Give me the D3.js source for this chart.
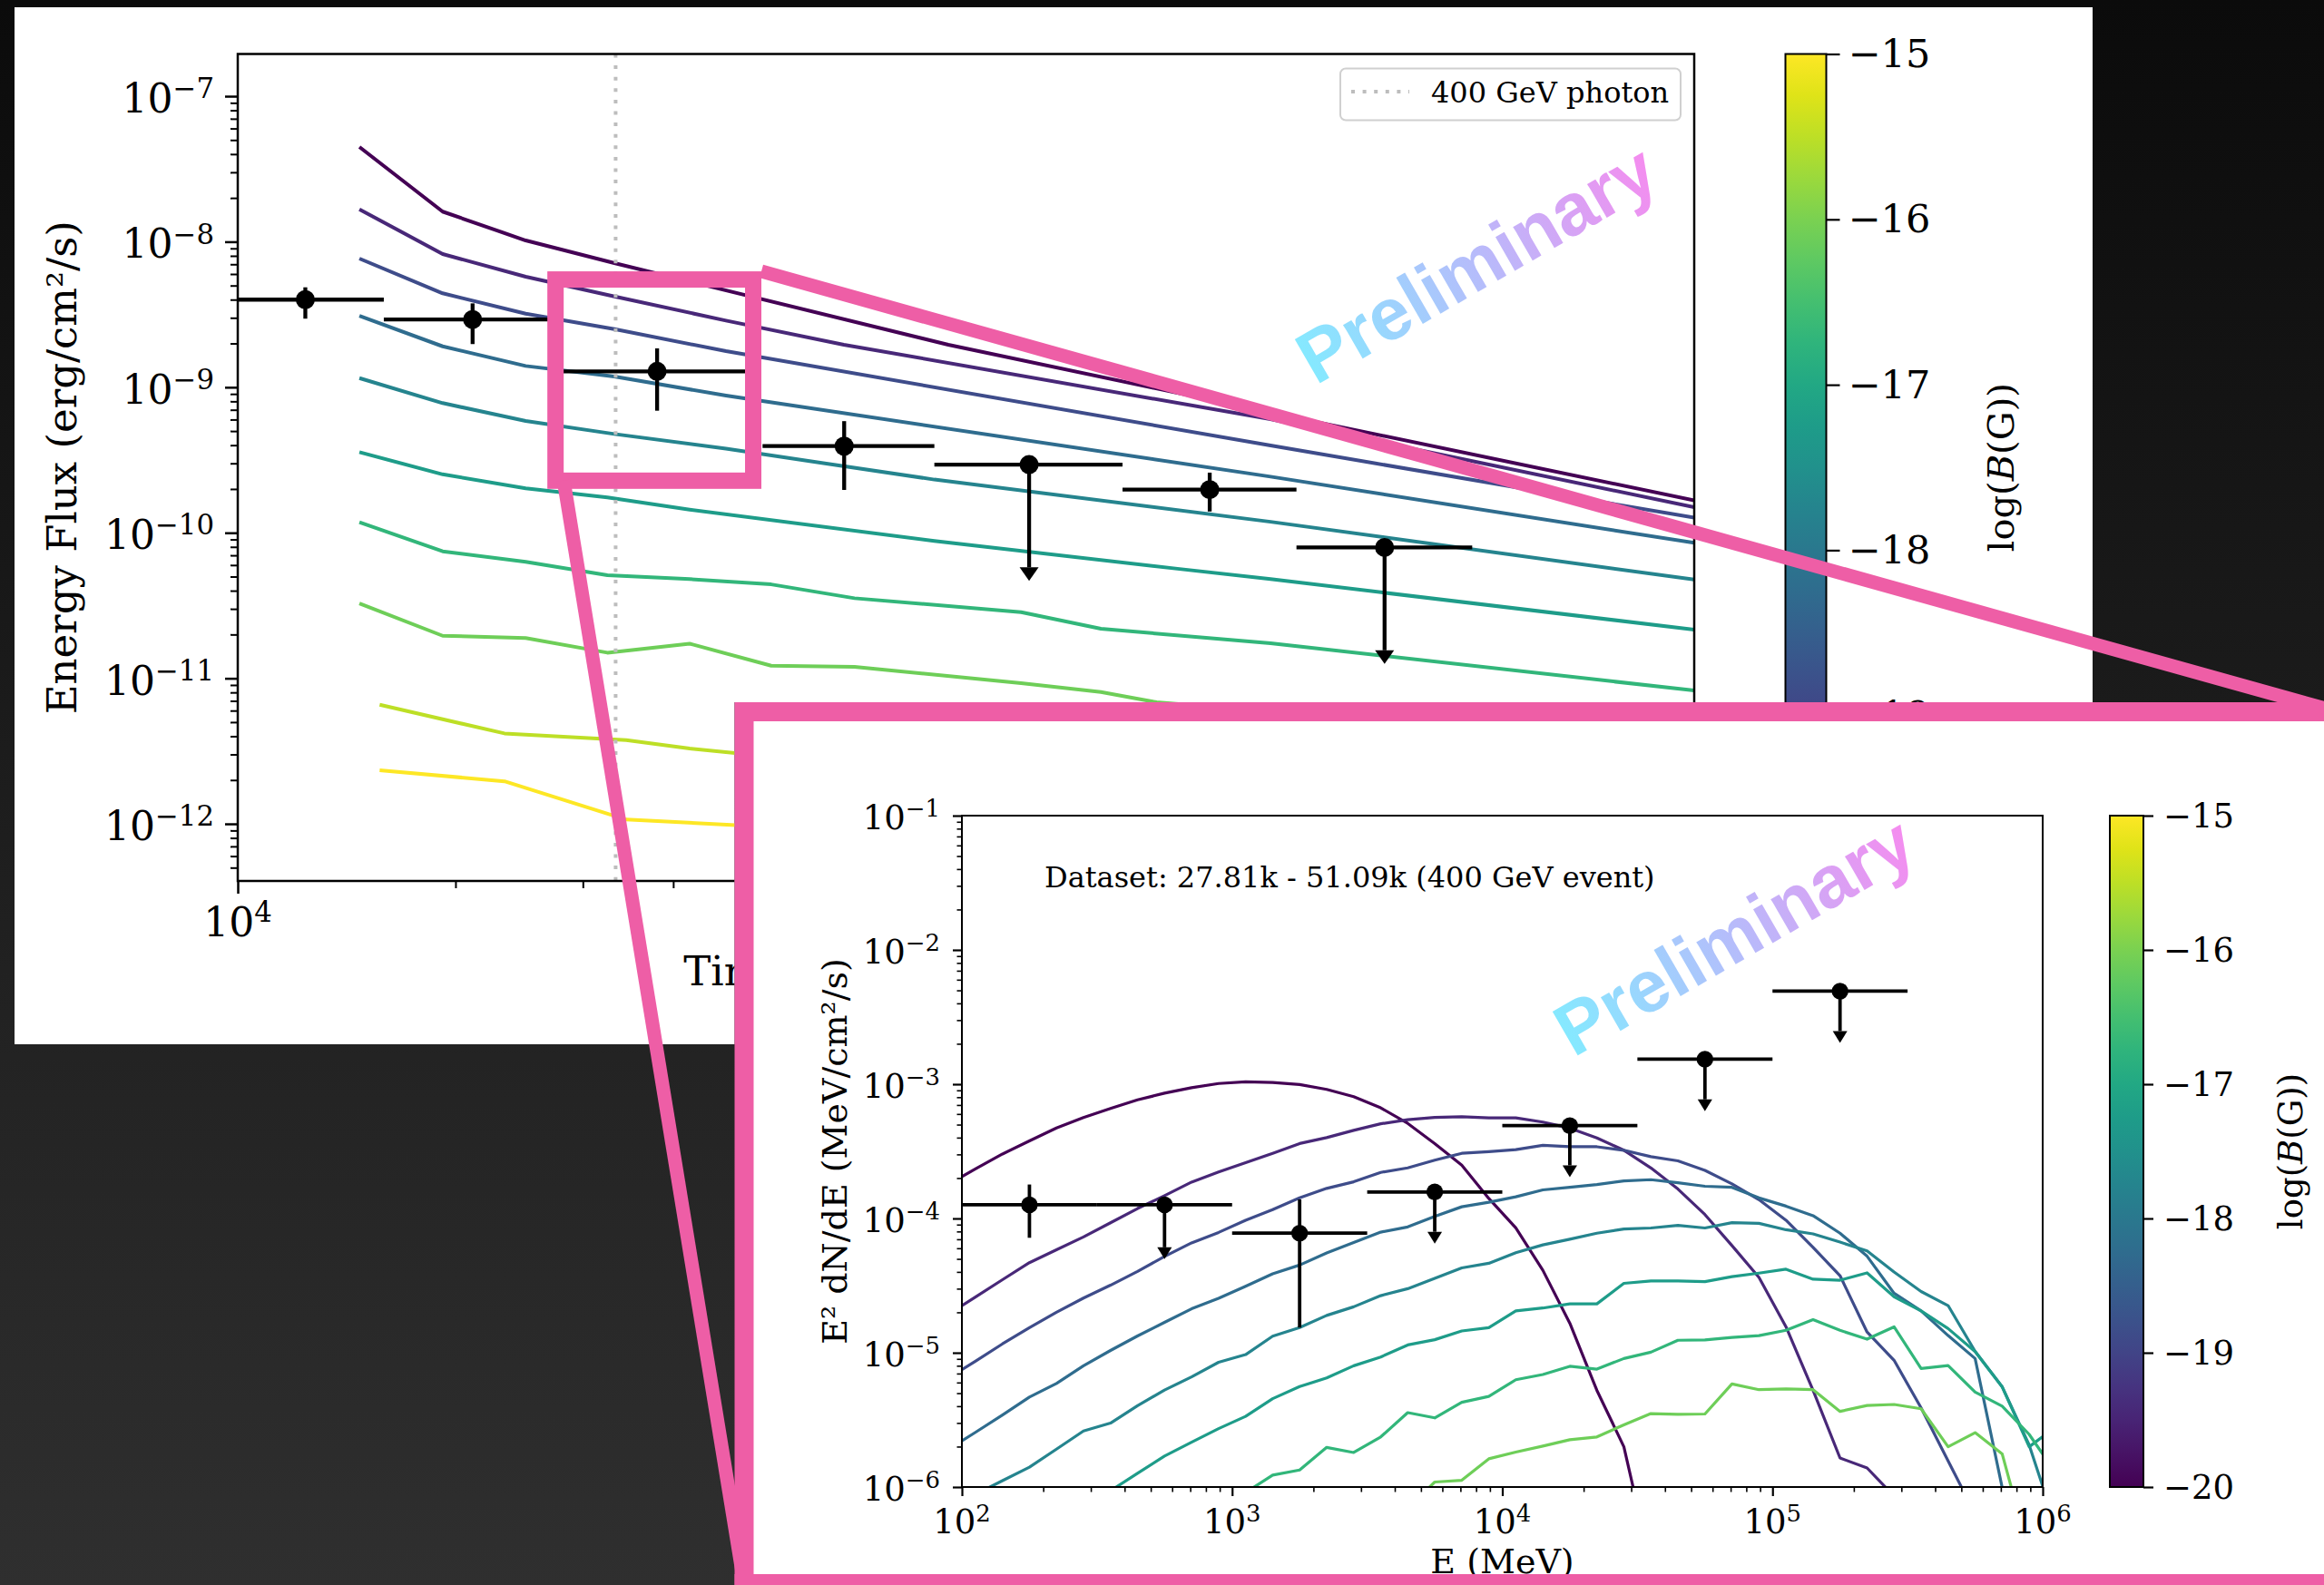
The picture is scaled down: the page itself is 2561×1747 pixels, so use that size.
<!DOCTYPE html>
<html>
<head>
<meta charset="utf-8">
<title>Pair-echo light curve and SED versus IGMF strength</title>
<script src="https://cdn.jsdelivr.net/npm/d3@7"></script>
<style>
  html, body { margin: 0; padding: 0; background: #1b1b1b; }
  svg { display: block; }
</style>
</head>
<body>
<svg id="fig" width="2561" height="1747" xmlns="http://www.w3.org/2000/svg"></svg>
<script>
// ------------------------------------------------------------------
// Data
// ------------------------------------------------------------------

// log10 of the intergalactic field strength (Gauss) for each model curve
const fieldLogB = [-20, -19.45, -18.85, -18.25, -17.75, -17.25, -16.7, -16.1, -15.5, -15];
const colorbarTicks = [-20, -19, -18, -17, -16, -15];

// Model energy-flux light curves, [time (s), flux (erg/cm^2/s)], one per fieldLogB entry
const lightCurves = [
  [[14730, 4.48e-8], [19200, 1.61e-8], [25010, 1.02e-8], [33170, 7.13e-9], [96030, 1.96e-9], [267900, 6.71e-10], [1032000, 1.67e-10]],
  [[14730, 1.67e-8], [19200, 8.23e-9], [25010, 5.75e-9], [33170, 4.21e-9], [47320, 2.87e-9], [68870, 1.96e-9], [267900, 6.03e-10], [1032000, 1.50e-10]],
  [[14730, 7.66e-9], [19200, 4.42e-9], [25010, 3.20e-9], [33170, 2.51e-9], [47320, 1.77e-9], [267900, 3.98e-10], [1032000, 1.27e-10]],
  [[14730, 3.09e-9], [19200, 1.91e-9], [25010, 1.40e-9], [33170, 1.185e-9], [47320, 8.76e-10], [267900, 2.43e-10], [1032000, 8.52e-11]],
  [[14730, 1.156e-9], [19200, 7.78e-10], [25010, 5.86e-10], [33170, 4.77e-10], [47320, 3.78e-10], [91860, 2.32e-10], [267900, 1.19e-10], [1032000, 4.77e-11]],
  [[14730, 3.58e-10], [19200, 2.52e-10], [25010, 2.02e-10], [32440, 1.75e-10], [42150, 1.44e-10], [91860, 8.79e-11], [199200, 5.66e-11], [267900, 4.80e-11], [1032000, 2.16e-11]],
  [[14730, 1.18e-10], [19200, 7.45e-11], [25010, 6.31e-11], [32440, 5.11e-11], [42150, 4.80e-11], [54640, 4.42e-11], [71240, 3.55e-11], [121100, 2.85e-11], [156100, 2.19e-11], [267900, 1.74e-11], [1032000, 8.25e-12]],
  [[14730, 3.27e-11], [19200, 1.96e-11], [25010, 1.89e-11], [32440, 1.50e-11], [42150, 1.73e-11], [54640, 1.22e-11], [71240, 1.20e-11], [121100, 9.25e-12], [156100, 8.05e-12], [186400, 6.84e-12], [1032000, 3.5e-12]],
  [[15710, 6.58e-12], [23380, 4.18e-12], [34440, 3.76e-12], [42150, 3.29e-12], [75300, 2.47e-12]],
  [[15710, 2.33e-12], [23380, 1.96e-12], [34440, 1.07e-12], [50900, 9.7e-13], [75300, 9.0e-13]]
];

// LAT light-curve bins
const lcTime    = [12400, 21120, 38000, 68930, 124200, 220700, 385100];
const lcTimeLo  = [10000, 15920, 27810, 53160, 91860, 167200, 290900];
const lcTimeHi  = [15920, 27810, 50300, 91860, 167200, 290900, 509000];
const lcFlux    = [4.0e-9, 2.92e-9, 1.285e-9, 3.94e-10, 2.94e-10, 1.98e-10, 7.93e-11];
const lcFluxLo  = [2.96e-9, 1.98e-9, 6.90e-10, 1.97e-10, 4.67e-11, 1.40e-10, 1.256e-11];
const lcFluxHi  = [4.86e-9, 3.77e-9, 1.85e-9, 5.85e-10, 2.94e-10, 2.59e-10, 7.93e-11];
const lcUpper   = [false, false, false, false, true, false, true];

const photonTime = 33300;              // arrival of the 400 GeV photon (s)
const zoomTimeRange = [27500, 51600];  // highlighted interval in the light curve
const zoomFluxRange = [2.28e-10, 5.5e-9];

const fluxDecades = [-12, -11, -10, -9, -8, -7];
const timeDecades = [4, 5, 6];

// SED of the 27.81k - 51.09k interval
const sedEnergy = [89.13, 112.2, 141.3, 177.8, 223.9, 281.8, 354.8, 446.7, 562.3, 707.9,
  891.3, 1122, 1413, 1778, 2239, 2818, 3548, 4467, 5623, 7079,
  8913, 11220, 14130, 17780, 22390, 28180, 35480, 44670, 56230, 70790,
  89130, 112200, 141300, 177800, 223900, 281800, 354800, 446700, 562300, 707900,
  891300, 1122000];

// log10 of E^2 dN/dE (MeV/cm^2/s) on the sedEnergy grid, one row per fieldLogB entry
const sedLogFlux = [
  [-3.745, -3.631, -3.520, -3.422, -3.326, -3.248, -3.181, -3.117, -3.067, -3.026, -2.995, -2.982, -2.987, -3.003, -3.039, -3.093, -3.176, -3.292, -3.442, -3.603, -3.851, -4.070, -4.386, -4.780, -5.280, -5.700, -6.580, null, null, null, null, null, null, null, null, null, null, null, null, null, null, null],
  [-4.714, -4.585, -4.456, -4.329, -4.233, -4.138, -4.032, -3.926, -3.830, -3.729, -3.654, -3.584, -3.515, -3.442, -3.398, -3.344, -3.295, -3.264, -3.248, -3.243, -3.251, -3.251, -3.282, -3.327, -3.400, -3.492, -3.624, -3.781, -3.971, -4.202, -4.439, -4.807, -5.280, -5.784, -5.858, -6.068, null, null, null, null, null, null],
  [-5.190, -5.063, -4.934, -4.813, -4.699, -4.593, -4.497, -4.394, -4.283, -4.182, -4.104, -4.014, -3.934, -3.846, -3.776, -3.727, -3.657, -3.623, -3.566, -3.515, -3.502, -3.487, -3.455, -3.466, -3.466, -3.492, -3.540, -3.571, -3.642, -3.742, -3.860, -4.013, -4.215, -4.426, -4.846, -5.056, -5.411, -5.806, -6.200, null, null, null],
  [-5.718, -5.593, -5.464, -5.330, -5.229, -5.097, -4.983, -4.875, -4.774, -4.673, -4.595, -4.505, -4.412, -4.347, -4.257, -4.179, -4.102, -4.063, -3.985, -3.913, -3.879, -3.839, -3.787, -3.768, -3.747, -3.721, -3.711, -3.734, -3.760, -3.768, -3.847, -3.908, -3.979, -4.110, -4.281, -4.557, -4.688, -4.872, -5.043, -6.003, -7.000, null],
  [null, -6.054, -5.953, -5.852, -5.718, -5.583, -5.524, -5.394, -5.278, -5.180, -5.071, -5.014, -4.877, -4.813, -4.722, -4.658, -4.575, -4.523, -4.446, -4.368, -4.334, -4.255, -4.197, -4.155, -4.110, -4.079, -4.071, -4.052, -4.071, -4.031, -4.036, -4.084, -4.115, -4.176, -4.241, -4.399, -4.544, -4.649, -4.990, -5.253, -5.687, -6.300],
  [null, null, null, null, null, -6.131, -6.028, -5.898, -5.769, -5.666, -5.565, -5.474, -5.342, -5.252, -5.188, -5.097, -5.032, -4.942, -4.903, -4.838, -4.813, -4.688, -4.667, -4.636, -4.636, -4.483, -4.465, -4.465, -4.470, -4.433, -4.407, -4.378, -4.452, -4.460, -4.405, -4.583, -4.688, -4.820, -4.991, -5.254, -5.700, -5.550],
  [null, null, null, null, null, null, null, null, null, null, -6.157, -6.041, -5.911, -5.873, -5.705, -5.743, -5.627, -5.446, -5.485, -5.369, -5.325, -5.201, -5.162, -5.101, -5.122, -5.043, -4.996, -4.907, -4.904, -4.886, -4.872, -4.833, -4.754, -4.833, -4.899, -4.807, -5.117, -5.096, -5.293, -5.398, -5.608, -5.900],
  [null, null, null, null, null, null, null, null, null, null, null, null, null, null, null, null, null, -6.157, -5.963, -5.950, -5.790, -5.740, -5.695, -5.648, -5.627, -5.537, -5.453, -5.458, -5.456, -5.232, -5.275, -5.269, -5.275, -5.437, -5.393, -5.385, -5.417, -5.700, -5.595, -5.753, -6.490, null]
];

// LAT spectral points
const sedE      = [177.8, 562.3, 1778, 5623, 17780, 56230, 177800];
const sedELo    = [100, 316.2, 1000, 3162, 10000, 31620, 100000];
const sedEHi    = [316.2, 1000, 3162, 10000, 31620, 100000, 316200];
const sedFlux   = [1.265e-4, 1.265e-4, 7.78e-5, 1.575e-4, 4.91e-4, 1.535e-3, 4.93e-3];
const sedFluxLo = [7.18e-5, 4.98e-5, 1.54e-5, 6.5e-5, 2.03e-4, 6.3e-4, 2.03e-3];
const sedFluxHi = [1.79e-4, 1.265e-4, 1.385e-4, 1.575e-4, 4.91e-4, 1.535e-3, 4.93e-3];
const sedUpper  = [false, true, false, true, true, true, true];

const sedDecades = [-6, -5, -4, -3, -2, -1];
const energyDecades = [2, 3, 4, 5, 6];

// ------------------------------------------------------------------
// Drawing
// ------------------------------------------------------------------
const SERIF = "'DejaVu Serif', serif";
const SANS = "'Liberation Sans', Arial, sans-serif";
const PINK = "#ee5ea6";
const svg = d3.select("#fig");
const defs = svg.append("defs");

const bColor = d3.scaleSequential(d3.interpolateViridis).domain([-20, -15]);

// backdrop
const bg = defs.append("linearGradient").attr("id", "backdrop")
  .attr("x1", 0).attr("y1", 0).attr("x2", 0).attr("y2", 1);
bg.append("stop").attr("offset", 0).attr("stop-color", "#0b0b0b");
bg.append("stop").attr("offset", 1).attr("stop-color", "#2f2f2f");
svg.append("rect").attr("width", 2561).attr("height", 1747).attr("fill", "url(#backdrop)");

// colour-bar gradient (bottom = -20, top = -15)
const cbGrad = defs.append("linearGradient").attr("id", "cbgrad")
  .attr("x1", 0).attr("y1", 1).attr("x2", 0).attr("y2", 0);
d3.range(0, 1.0001, 0.05).forEach(t => {
  cbGrad.append("stop").attr("offset", t).attr("stop-color", d3.interpolateViridis(t));
});

// watermark gradient
const wm = defs.append("linearGradient").attr("id", "wmgrad")
  .attr("x1", 0).attr("y1", 0).attr("x2", 1).attr("y2", 0);
wm.append("stop").attr("offset", 0).attr("stop-color", "#84eaff");
wm.append("stop").attr("offset", 0.5).attr("stop-color", "#b6bcfb");
wm.append("stop").attr("offset", 1).attr("stop-color", "#f58cef");

// inset frame geometry (centre line of its pink border)
const inset = { x: 820, y: 784.5, w: 1755, h: 961 };
const underInset = (x, y) => x > inset.x - 10.5 && y > inset.y - 10.5;

// the light-curve panel is only visible outside the inset card
defs.append("clipPath").attr("id", "outsideInset").append("path")
  .attr("clip-rule", "evenodd")
  .attr("d", `M0,0H2561V1747H0Z M${inset.x - 10.5},${inset.y - 10.5}H2600V1800H${inset.x - 10.5}Z`);

function minorTicks(scale) {
  const [a, b] = scale.domain();
  const out = [];
  for (let e = Math.floor(Math.log10(a)); e <= Math.ceil(Math.log10(b)); e++) {
    for (let m = 2; m <= 9; m++) {
      const v = m * Math.pow(10, e);
      if (v >= a && v <= b) out.push(v);
    }
  }
  return out;
}

function ticks(g, axisFn, scale, values, size, width) {
  g.call(axisFn(scale).tickValues(values).tickSize(size).tickFormat(""))
    .call(s => s.select(".domain").remove())
    .call(s => s.selectAll(".tick line").attr("stroke", "#000").attr("stroke-width", width));
}

function powerLabel(g, x, y, exp, size, anchor) {
  const t = g.append("text").attr("x", x).attr("y", y)
    .attr("font-family", SERIF).attr("font-size", size)
    .attr("text-anchor", anchor).attr("fill", "#000");
  t.append("tspan").text("10");
  t.append("tspan").attr("dy", -0.36 * size).attr("font-size", 0.7 * size)
    .text(exp < 0 ? "\u2212" + (-exp) : String(exp));
}

function errorPoints(g, xs, ys, x, xlo, xhi, v, vlo, vhi, upper, o) {
  x.forEach((xv, i) => {
    const cy = ys(v[i]);
    g.append("line").attr("x1", xs(xlo[i])).attr("x2", xs(xhi[i]))
      .attr("y1", cy).attr("y2", cy)
      .attr("stroke", "#000").attr("stroke-width", o.lw);
    const cx = xs(xv);
    if (upper[i]) {
      const tip = ys(vlo[i]);
      g.append("line").attr("x1", cx).attr("x2", cx).attr("y1", cy).attr("y2", tip - o.headH)
        .attr("stroke", "#000").attr("stroke-width", o.lw);
      g.append("path")
        .attr("d", `M${cx - o.headW / 2},${tip - o.headH}L${cx + o.headW / 2},${tip - o.headH}L${cx},${tip}Z`)
        .attr("fill", "#000");
    } else {
      g.append("line").attr("x1", cx).attr("x2", cx)
        .attr("y1", ys(vhi[i])).attr("y2", ys(vlo[i]))
        .attr("stroke", "#000").attr("stroke-width", o.lw);
    }
    g.append("circle").attr("cx", cx).attr("cy", cy).attr("r", o.r).attr("fill", "#000");
  });
}

function colorbar(g, box, scale, tickLen, fontSize, labelGap, labelX, labelSize) {
  g.append("rect").attr("x", box.x).attr("y", box.y).attr("width", box.w).attr("height", box.h)
    .attr("fill", "url(#cbgrad)").attr("stroke", "#000").attr("stroke-width", 2);
  const ag = g.append("g").attr("transform", `translate(${box.x + box.w},0)`);
  ticks(ag, d3.axisRight, scale, colorbarTicks, tickLen, 2.2);
  colorbarTicks.forEach(v => {
    const lx = box.x + box.w + labelGap, ly = scale(v) + 0.34 * fontSize;
    if (g === mainG && underInset(lx, ly - fontSize)) return;   // hidden by the inset card
    g.append("text").attr("x", lx).attr("y", ly)
      .attr("font-family", SERIF).attr("font-size", fontSize).attr("fill", "#000")
      .text("\u2212" + Math.abs(v));
  });
  const t = g.append("text")
    .attr("transform", `translate(${labelX},${box.y + box.h / 2}) rotate(-90)`)
    .attr("text-anchor", "middle").attr("font-family", SERIF).attr("font-size", labelSize)
    .attr("fill", "#000");
  t.append("tspan").text("log(");
  t.append("tspan").attr("font-style", "italic").text("B");
  t.append("tspan").text("(G))");
}

function watermark(g, x, y, size) {
  g.append("text").attr("transform", `translate(${x},${y}) rotate(-30)`)
    .attr("font-family", SANS).attr("font-weight", "bold").attr("font-size", size)
    .attr("fill", "url(#wmgrad)").text("Preliminary");
}

// ---------------- Light-curve panel ----------------
const mainG = svg.append("g").attr("clip-path", "url(#outsideInset)");
mainG.append("rect").attr("x", 16).attr("y", 8).attr("width", 2290).attr("height", 1143).attr("fill", "#fff");

const M = { left: 262, right: 1867, top: 59.5, bottom: 971 };
const xTime = d3.scaleLog().domain([1e4, 1.032e6]).range([M.left, M.right]);
const yFlux = d3.scaleLog().domain([4.05e-13, 1.95e-7]).range([M.bottom, M.top]);

defs.append("clipPath").attr("id", "clipMain").append("rect")
  .attr("x", M.left).attr("y", M.top).attr("width", M.right - M.left).attr("height", M.bottom - M.top);

const lcLine = d3.line().x(d => xTime(d[0])).y(d => yFlux(d[1]));
const curveG = mainG.append("g").attr("clip-path", "url(#clipMain)");
lightCurves.forEach((c, i) => {
  curveG.append("path").attr("d", lcLine(c)).attr("fill", "none")
    .attr("stroke", bColor(fieldLogB[i])).attr("stroke-width", 4)
    .attr("stroke-linejoin", "round");
});
curveG.append("line").attr("x1", xTime(photonTime)).attr("x2", xTime(photonTime))
  .attr("y1", M.top).attr("y2", M.bottom)
  .attr("stroke", "#bdbdbd").attr("stroke-width", 4).attr("stroke-dasharray", "4 8.6");

errorPoints(mainG, xTime, yFlux, lcTime, lcTimeLo, lcTimeHi, lcFlux, lcFluxLo, lcFluxHi, lcUpper,
  { lw: 4.3, r: 10.5, headW: 21, headH: 15 });

mainG.append("rect").attr("x", M.left).attr("y", M.top)
  .attr("width", M.right - M.left).attr("height", M.bottom - M.top)
  .attr("fill", "none").attr("stroke", "#000").attr("stroke-width", 2.5);

const mxAxis = mainG.append("g").attr("transform", `translate(0,${M.bottom})`);
ticks(mxAxis.append("g"), d3.axisBottom, xTime, timeDecades.map(e => Math.pow(10, e)), 14, 2.5);
ticks(mxAxis.append("g"), d3.axisBottom, xTime, minorTicks(xTime), 8, 2);
const myAxis = mainG.append("g").attr("transform", `translate(${M.left},0)`);
ticks(myAxis.append("g"), d3.axisLeft, yFlux, fluxDecades.map(e => Math.pow(10, e)), 14, 2.5);
ticks(myAxis.append("g"), d3.axisLeft, yFlux, minorTicks(yFlux), 8, 2);

// decade labels that fall behind the inset card are not drawn
timeDecades.forEach(e => {
  const x = xTime(Math.pow(10, e)), y = M.bottom + 61;
  if (!underInset(x - 40, y)) powerLabel(mainG, x, y, e, 44, "middle");
});
fluxDecades.forEach(e => powerLabel(mainG, M.left - 26, yFlux(Math.pow(10, e)) + 18, e, 44, "end"));

mainG.append("text").attr("x", (M.left + M.right) / 2).attr("y", 1086)
  .attr("text-anchor", "middle").attr("font-family", SERIF).attr("font-size", 45)
  .text("Time since GBM trigger (s)");
mainG.append("text").attr("transform", `translate(84,${(M.top + M.bottom) / 2}) rotate(-90)`)
  .attr("text-anchor", "middle").attr("font-family", SERIF).attr("font-size", 45)
  .text("Energy Flux (erg/cm\u00B2/s)");

// legend
const lg = mainG.append("g");
lg.append("rect").attr("x", 1477).attr("y", 75.5).attr("width", 375).attr("height", 57).attr("rx", 6)
  .attr("fill", "#fff").attr("fill-opacity", 0.8).attr("stroke", "#d0d0d0").attr("stroke-width", 2);
lg.append("line").attr("x1", 1489).attr("x2", 1553).attr("y1", 101).attr("y2", 101)
  .attr("stroke", "#bdbdbd").attr("stroke-width", 4).attr("stroke-dasharray", "4 8.6");
lg.append("text").attr("x", 1577).attr("y", 113).attr("font-family", SERIF).attr("font-size", 32)
  .text("400 GeV photon");

const cbMain = d3.scaleLinear().domain([-20, -15]).range([M.bottom, M.top]);
colorbar(mainG, { x: 1967.5, y: M.top, w: 45, h: M.bottom - M.top }, cbMain, 15, 43, 24, 2219, 40);

watermark(mainG, 1450, 425, 81);

// highlighted interval
mainG.append("rect")
  .attr("x", xTime(zoomTimeRange[0])).attr("y", yFlux(zoomFluxRange[1]))
  .attr("width", xTime(zoomTimeRange[1]) - xTime(zoomTimeRange[0]))
  .attr("height", yFlux(zoomFluxRange[0]) - yFlux(zoomFluxRange[1]))
  .attr("fill", "none").attr("stroke", PINK).attr("stroke-width", 18);

// ---------------- SED inset ----------------
const boxR = xTime(zoomTimeRange[1]) + 9, boxT = yFlux(zoomFluxRange[1]) - 9;
const boxL = xTime(zoomTimeRange[0]) + 9, boxB = yFlux(zoomFluxRange[0]);
svg.append("line").attr("x1", boxR).attr("y1", boxT).attr("x2", inset.x + inset.w).attr("y2", inset.y)
  .attr("stroke", PINK).attr("stroke-width", 15);
svg.append("line").attr("x1", boxL).attr("y1", boxB).attr("x2", inset.x).attr("y2", inset.y + inset.h)
  .attr("stroke", PINK).attr("stroke-width", 15);

svg.append("rect").attr("x", inset.x).attr("y", inset.y).attr("width", inset.w).attr("height", inset.h)
  .attr("fill", "#fff").attr("stroke", PINK).attr("stroke-width", 21);

const I = { left: 1060, right: 2251, top: 899, bottom: 1639 };
const xE = d3.scaleLog().domain([100, 1e6]).range([I.left, I.right]);
const yS = d3.scaleLog().domain([1e-6, 1e-1]).range([I.bottom, I.top]);

defs.append("clipPath").attr("id", "clipInset").append("rect")
  .attr("x", I.left).attr("y", I.top).attr("width", I.right - I.left).attr("height", I.bottom - I.top);

const insetG = svg.append("g");
const sedG = insetG.append("g").attr("clip-path", "url(#clipInset)");
const sedLine = d3.line().defined(d => d[1] !== null)
  .x(d => xE(d[0])).y(d => yS(Math.pow(10, d[1])));
sedLogFlux.forEach((row, i) => {
  sedG.append("path").attr("d", sedLine(row.map((v, k) => [sedEnergy[k], v])))
    .attr("fill", "none").attr("stroke", bColor(fieldLogB[i])).attr("stroke-width", 3.2)
    .attr("stroke-linejoin", "round");
});

insetG.append("text").attr("x", 1151).attr("y", 978).attr("font-family", SERIF).attr("font-size", 32)
  .text("Dataset: 27.81k - 51.09k (400 GeV event)");

errorPoints(insetG, xE, yS, sedE, sedELo, sedEHi, sedFlux, sedFluxLo, sedFluxHi, sedUpper,
  { lw: 3.8, r: 9.2, headW: 16, headH: 13 });

insetG.append("rect").attr("x", I.left).attr("y", I.top)
  .attr("width", I.right - I.left).attr("height", I.bottom - I.top)
  .attr("fill", "none").attr("stroke", "#000").attr("stroke-width", 2);

const ixAxis = insetG.append("g").attr("transform", `translate(0,${I.bottom})`);
ticks(ixAxis.append("g"), d3.axisBottom, xE, energyDecades.map(e => Math.pow(10, e)), 10, 2.2);
ticks(ixAxis.append("g"), d3.axisBottom, xE, minorTicks(xE), 5.5, 1.6);
const iyAxis = insetG.append("g").attr("transform", `translate(${I.left},0)`);
ticks(iyAxis.append("g"), d3.axisLeft, yS, sedDecades.map(e => Math.pow(10, e)), 10, 2.2);
ticks(iyAxis.append("g"), d3.axisLeft, yS, minorTicks(yS), 5.5, 1.6);

energyDecades.forEach(e => powerLabel(insetG, xE(Math.pow(10, e)), I.bottom + 51, e, 37, "middle"));
sedDecades.forEach(e => powerLabel(insetG, I.left - 24, yS(Math.pow(10, e)) + 14.5, e, 37, "end"));

insetG.append("text").attr("x", (I.left + I.right) / 2).attr("y", 1734)
  .attr("text-anchor", "middle").attr("font-family", SERIF).attr("font-size", 38)
  .text("E (MeV)");
insetG.append("text").attr("transform", `translate(933,${(I.top + I.bottom) / 2}) rotate(-90)`)
  .attr("text-anchor", "middle").attr("font-family", SERIF).attr("font-size", 38)
  .text("E\u00B2 dN/dE (MeV/cm\u00B2/s)");

const cbInset = d3.scaleLinear().domain([-20, -15]).range([I.bottom, I.top]);
colorbar(insetG, { x: 2325, y: I.top, w: 37, h: I.bottom - I.top }, cbInset, 11, 37, 22, 2537, 37);

watermark(insetG, 1734, 1166, 81);

// bottom border band drawn again over the inset x-axis title
svg.append("line").attr("x1", inset.x - 10.5).attr("x2", 2561)
  .attr("y1", inset.y + inset.h).attr("y2", inset.y + inset.h)
  .attr("stroke", PINK).attr("stroke-width", 21);
</script>
</body>
</html>
